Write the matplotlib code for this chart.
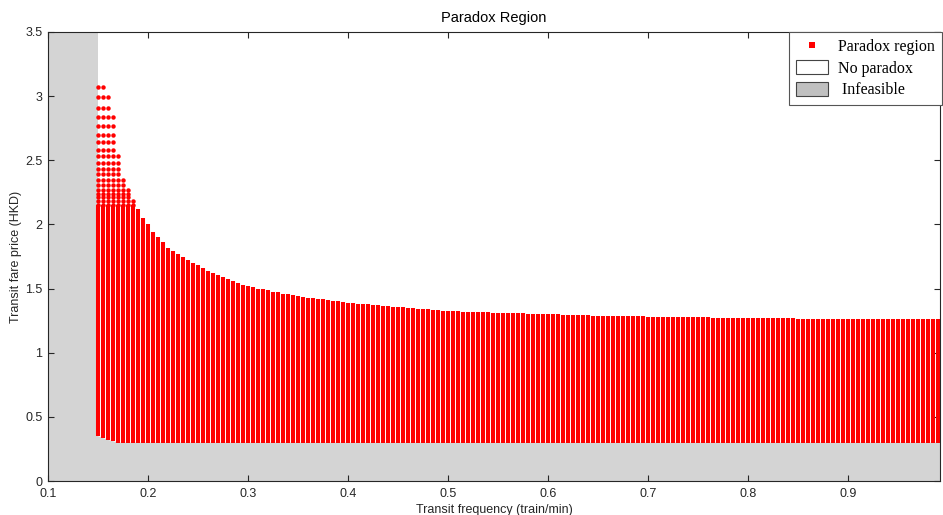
import numpy as np
import matplotlib
matplotlib.use("Agg")
import matplotlib.pyplot as plt
from matplotlib.lines import Line2D
from matplotlib.patches import Patch

# ---- data ----
freq = np.round(np.arange(0.15, 0.9926, 0.005), 3)   # transit frequency grid (train/min)

upper_fare = [
    3.07, 3.07, 2.99, 2.86, 2.55, 2.37, 2.28, 2.19, 2.12, 2.05,
    2.00, 1.94, 1.90, 1.86, 1.82, 1.79, 1.77, 1.75, 1.72, 1.70,
    1.68, 1.66, 1.64, 1.62, 1.605, 1.59, 1.575, 1.56, 1.545, 1.53,
    1.52, 1.51, 1.50, 1.495, 1.485, 1.475, 1.47, 1.46, 1.455, 1.45,
    1.44, 1.435, 1.43, 1.425, 1.42, 1.415, 1.41, 1.405, 1.40, 1.395,
    1.39,
    1.386, 1.383, 1.380, 1.376, 1.372, 1.369, 1.366, 1.362, 1.359, 1.356,
    1.353, 1.350, 1.347, 1.344, 1.341, 1.338, 1.335, 1.332, 1.329,
    1.325, 1.324, 1.322, 1.321, 1.320, 1.318, 1.317, 1.316, 1.314, 1.313,
    1.312, 1.310, 1.309, 1.308, 1.307, 1.306, 1.304, 1.303, 1.302, 1.301,
    1.300, 1.299, 1.298, 1.297, 1.296, 1.295, 1.294, 1.293, 1.292, 1.290,
    1.288,
    1.288, 1.287, 1.287, 1.286, 1.285, 1.285, 1.284, 1.283, 1.283, 1.282,
    1.281, 1.281, 1.280, 1.279, 1.279, 1.278, 1.277, 1.277, 1.276, 1.276,
    1.275, 1.275, 1.274, 1.273, 1.273, 1.272, 1.272, 1.271, 1.271, 1.270,
    1.270, 1.269, 1.269, 1.268,
    1.268, 1.268, 1.267, 1.267, 1.267, 1.266, 1.266, 1.266, 1.265, 1.265,
    1.265, 1.264, 1.264, 1.264, 1.264, 1.263, 1.263, 1.263, 1.263, 1.262,
    1.262, 1.262, 1.262, 1.262, 1.261, 1.261, 1.261, 1.261, 1.261, 1.260,
    1.260, 1.260, 1.260, 1.260,
]
lower_fare = [0.35, 0.335, 0.32, 0.31] + [0.30] * (len(freq) - 4)

# sampled fare levels visible as separate dots near the top of the region
sparse_fares = [3.07, 2.99, 2.91, 2.84, 2.77, 2.70, 2.64, 2.58, 2.53, 2.48,
                2.43, 2.39, 2.35, 2.31, 2.27, 2.24, 2.21, 2.18, 2.15]
solid_top = 2.15
infeasible_freq = 0.15
x_ticks = [0.1, 0.2, 0.3, 0.4, 0.5, 0.6, 0.7, 0.8, 0.9]
x_labels = ["0.1", "0.2", "0.3", "0.4", "0.5", "0.6", "0.7", "0.8", "0.9"]
y_ticks = [0, 0.5, 1, 1.5, 2, 2.5, 3, 3.5]
y_labels = ["0", "0.5", "1", "1.5", "2", "2.5", "3", "3.5"]

# ---- figure ----
plt.rcParams['font.family'] = ['Liberation Sans', 'DejaVu Sans']
fig = plt.figure(figsize=(9.43, 5.15), dpi=100)
ax = fig.add_axes([48 / 943, 1 - 481 / 515, (940 - 48) / 943, (481 - 32) / 515])
xmin, xmax, ymin, ymax = 0.1, 0.992, 0.0, 3.5
ax.set_xlim(xmin, xmax)
ax.set_ylim(ymin, ymax)

gray = '#d4d4d4'
# infeasible region: left strip + area below the lower bound
poly_x = [xmin, xmin, infeasible_freq, infeasible_freq] + list(freq) + [xmax, xmax]
poly_y = [ymin, ymax, ymax, lower_fare[0]] + list(lower_fare) + [lower_fare[-1], ymin]
ax.fill(poly_x, poly_y, color=gray, lw=0, zorder=1)

upper = np.array(upper_fare)
lower = np.array(lower_fare)
tops = np.minimum(upper, solid_top)
ax.vlines(freq, lower, tops, colors='#ff0000', linewidth=2.9, zorder=2)

sx, sy = [], []
for f, u in zip(freq, upper):
    if u > solid_top:
        for lv in sparse_fares:
            if lv <= u + 0.01:
                sx.append(f)
                sy.append(lv)
ax.plot(sx, sy, ls='none', marker='o', ms=3.2, mew=0, color='#ff0000', zorder=3)

# axes styling (MATLAB-like)
axcol = '#262626'
for s in ax.spines.values():
    s.set_color(axcol)
    s.set_linewidth(0.8)
    s.set_zorder(5)
ax.set_xticks(x_ticks)
ax.set_xticklabels(x_labels)
ax.set_yticks(y_ticks)
ax.set_yticklabels(y_labels)
ax.tick_params(direction='in', length=4, width=0.8, color=axcol, labelcolor=axcol,
               labelsize=9, top=True, right=True)
ax.tick_params(axis='x', pad=5)
ax.tick_params(axis='y', pad=4)
ax.set_xlabel('Transit frequency (train/min)', fontsize=9, color=axcol, labelpad=3)
ax.set_ylabel('Transit fare price (HKD)', fontsize=9, color=axcol, labelpad=2)
ax.set_title('Paradox Region', fontsize=10.5, color='black', pad=7)

handles = [
    Line2D([], [], ls='none', marker='s', ms=4, mew=0, color='#ff0000'),
    Patch(facecolor='white', edgecolor='#444444', lw=0.8),
    Patch(facecolor='#c0c0c0', edgecolor='#444444', lw=0.8),
]
labels = ['Paradox region', 'No paradox', ' Infeasible']
leg = ax.legend(handles, labels, loc='upper left',
                bbox_to_anchor=(789 / 943, 1 - 32 / 515), bbox_transform=fig.transFigure,
                borderaxespad=0, fancybox=False, framealpha=1,
                prop={'family': ['Liberation Serif', 'DejaVu Serif'], 'size': 11.5},
                handlelength=2.0, handleheight=1.0, handletextpad=0.65,
                labelspacing=0.3, borderpad=0.42)
leg.get_frame().set_edgecolor('#555555')
leg.get_frame().set_linewidth(0.8)
leg.set_zorder(10)

fig.savefig('out.png', dpi=100)
